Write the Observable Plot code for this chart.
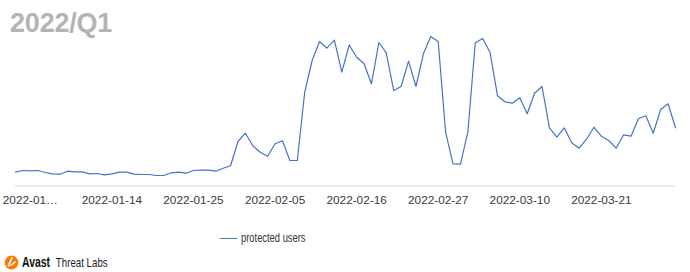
<!DOCTYPE html>
<html>
<head>
<meta charset="utf-8">
<script src="https://cdn.jsdelivr.net/npm/d3@7"></script>
<script src="https://cdn.jsdelivr.net/npm/@observablehq/plot@0.6"></script>
<style>
  html, body { margin: 0; padding: 0; background: #fff; }
  #wrap { position: relative; width: 690px; height: 272px; overflow: hidden; font-family: "Liberation Sans", Arial, sans-serif; }
  #title { position: absolute; left: 10px; top: 8px; font-size: 27px; font-weight: bold; color: #b4b4b4; letter-spacing: -0.2px; }
  #legend { position: absolute; left: 220px; top: 231px; display: flex; align-items: center; }
  #legend .sw { width: 17px; height: 0; border-top: 1.5px solid #4673c6; margin-right: 4px; }
  #legend .t { font-size: 12px; color: #333; display: inline-block; transform: scaleX(0.78); transform-origin: left center; }
  #logo { position: absolute; left: 4px; top: 253px; display: flex; align-items: center; }
  #logo .txt { display: inline-block; transform: scaleX(0.72); transform-origin: left center; margin-left: 3px; white-space: nowrap; }
  #logo .b { font-weight: bold; font-size: 14.5px; color: #111; }
  #logo .r { font-size: 13.5px; color: #222; margin-left: 8px; }
  #chart { position: absolute; left: 0; top: 0; }
</style>
</head>
<body>
<div id="wrap">
  <div id="chart"></div>
  <div id="title">2022/Q1</div>
  <div id="legend"><span class="sw"></span><span class="t">protected users</span></div>
  <div id="logo">
    <svg width="15" height="16" viewBox="0 0 14 15">
      <circle cx="7" cy="8" r="6.5" fill="#ff7800"/>
      <path d="M3 11 L7 3 L8.5 3 L6 9 Z" fill="#fff"/>
      <path d="M3.5 11.5 Q8 10 11 7" stroke="#fff" stroke-width="1.2" fill="none"/>
    </svg>
    <span class="txt"><span class="b">Avast</span><span class="r">Threat Labs</span></span>
  </div>
</div>
<script>
const startDate = "2022-01-01";
const endDate = "2022-03-31";
const protectedUsers = [
  138,155,152,155,135,122,118,148,142,142,
  122,125,112,122,138,138,118,115,115,105,
  105,132,138,128,155,158,158,148,178,202,
  445,528,402,338,298,422,452,255,255,938,
  1255,1445,1378,1458,1138,1410,1288,1222,1022,1435,
  1332,955,995,1248,995,1322,1495,1445,538,222,
  218,538,1432,1475,1335,902,842,828,882,722,
  928,995,582,488,582,432,378,468,588,498,
  455,378,512,498,672,702,528,765,822,582
];
const tickDates = ["2022-01-03","2022-01-14","2022-01-25","2022-02-05","2022-02-16","2022-02-27","2022-03-10","2022-03-21"];
const tickLabels = ["2022-01…","2022-01-14","2022-01-25","2022-02-05","2022-02-16","2022-02-27","2022-03-10","2022-03-21"];

const days = d3.utcDay.range(new Date(startDate), d3.utcDay.offset(new Date(endDate), 1));
const data = days.map((d, i) => ({date: d, value: protectedUsers[i]}));
const ticks = tickDates.map(s => new Date(s));
const labelOf = new Map(ticks.map((t, i) => [+t, tickLabels[i]]));

const chart = Plot.plot({
  width: 690,
  height: 272,
  marginLeft: 15,
  marginRight: 15,
  marginTop: 35.5,
  marginBottom: 86.5,
  style: {fontFamily: "'Liberation Sans', Arial, sans-serif", fontSize: "11.8px", color: "#444", background: "transparent"},
  x: {type: "utc", domain: [new Date(startDate), new Date(endDate)]},
  y: {domain: [0, 1500], axis: null},
  marks: [
    Plot.axisX({ticks, tickFormat: d => labelOf.get(+d), tickSize: 0, tickPadding: 10, label: null, fill: "#3a3a3a"}),
    Plot.ruleY([0], {stroke: "#d4d4d4", strokeWidth: 1}),
    Plot.line(data, {x: "date", y: "value", stroke: "#4673c6", strokeWidth: 1.2})
  ]
});
document.getElementById("chart").appendChild(chart);
</script>
</body>
</html>
